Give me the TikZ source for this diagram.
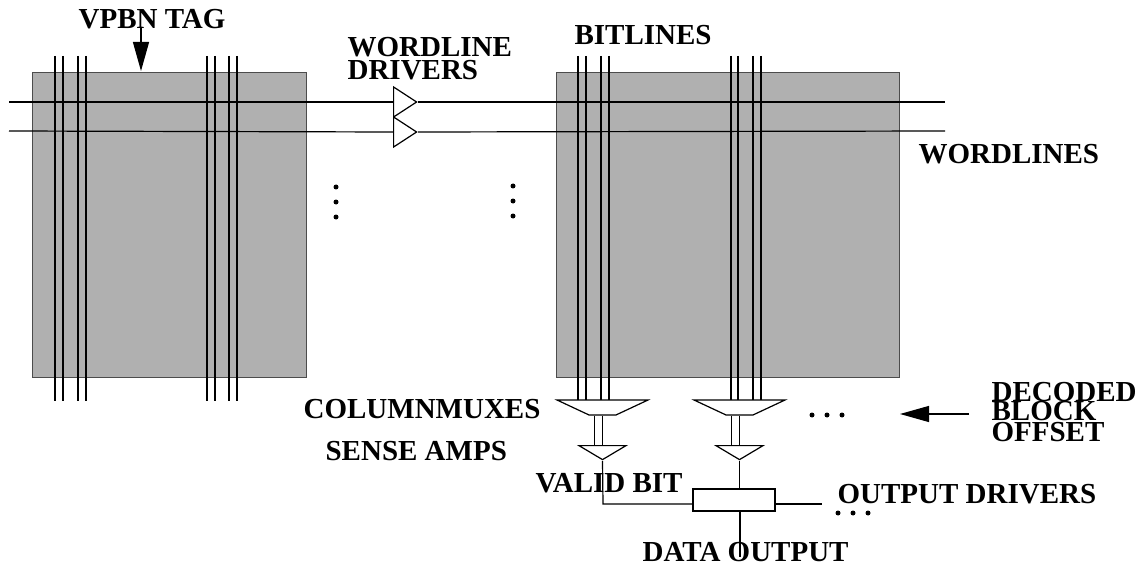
\documentclass[tikz,border=0pt]{standalone}
\usepackage{fontspec}
\setmainfont{Liberation Serif}
\usetikzlibrary{arrows.meta, shapes.geometric}

\begin{document}
\begin{tikzpicture}[
    x=1pt, y=-1pt,
    line width=1.2pt,
    array/.style={draw=black!70, fill=black!31, minimum width=#1, minimum height=305pt, inner sep=0pt, anchor=north west},
    lbl/.style={font=\fontsize{29}{20}\selectfont\bfseries, inner sep=0pt, anchor=base west, align=left},
    driver/.style={draw, fill=white, isosceles triangle, isosceles triangle stretches, minimum width=30pt, minimum height=23pt, inner sep=0.5pt, anchor=lower side},
    mux/.style={draw, fill=white, trapezium, trapezium stretches, shape border rotate=180, trapezium left angle=40, trapezium right angle=40, minimum width=91pt, minimum height=15pt, inner sep=0.5pt},
    amp/.style={draw, fill=white, isosceles triangle, isosceles triangle stretches, shape border rotate=-90, minimum width=47pt, minimum height=14pt, inner sep=0.5pt},
    dotc/.style={circle, fill=black, minimum size=5pt, inner sep=0pt},
    arr/.style={-{Triangle[length=29pt, width=16pt]}}
]
\useasboundingbox (0,0) rectangle (1141,567);

\node[array=274pt] (left) at (32,72) {};
\node[array=343pt] (right) at (556,72) {};

% wordlines
\coordinate (wla) at (9,102);
\coordinate (wlb) at (9,131);
\coordinate (wlc) at (945,102);
\coordinate (wld) at (945,131);
\node[driver] (dra) at (393,102) {};
\node[driver] (drb) at (393,132) {};
\draw (wla) -- (dra.lower side);
\draw (wlb) -- (drb.lower side);
\draw (dra.apex) -- (wlc);
\draw (drb.apex) -- (wld);

% bitlines
\foreach \x in {55,63,78,86,207,215,229,237} {
    \coordinate (bta) at (\x,56);
    \coordinate (btb) at (\x,401);
    \draw (bta) -- (btb);
}
\foreach \x in {578,586,601,609,731,738,753,761} {
    \coordinate (bta) at (\x,56);
    \coordinate (btb) at (\x,400);
    \draw (bta) -- (btb);
}

\node[mux] (muxa) at (602.5,407.5) {};
\node[mux] (muxb) at (739.5,407.5) {};
\node[amp] (ampa) at (602.5,452) {};
\node[amp] (ampb) at (739.5,452) {};
\draw ([xshift=-8pt]muxa.south) -- ([xshift=-8pt]ampa.north);
\draw (muxa.south) -- (ampa.north);
\draw ([xshift=-8pt]muxb.south) -- ([xshift=-8pt]ampb.north);
\draw (muxb.south) -- (ampb.north);

\node[draw, minimum width=82pt, minimum height=22pt, inner sep=0pt] (outdrv) at (734,500) {};
\coordinate (wirea) at (603,504);
\coordinate (wireb) at (822,504);
\coordinate (wirec) at (740,557);
\draw (ampa.apex) -- (wirea) -- (outdrv.west |- wirea);
\draw (ampb.apex) -- (ampb.apex |- outdrv.north);
\draw (outdrv.east |- wireb) -- (wireb);
\draw (wirec |- outdrv.south) -- (wirec);

\coordinate (tagtop) at (141,27);
\coordinate (tagend) at (141,71);
\draw[arr] (tagtop) -- (tagend);
\coordinate (offtail) at (969,414);
\coordinate (offend) at (900,414);
\draw[arr] (offtail) -- (offend);

% dots
\foreach \y in {187,202,217} {
    \node[dotc] at (336,\y) {};
    \node[dotc] at (513,\y-1) {};
}
\foreach \x in {812,827,842} {
    \node[dotc] at (\x,415) {};
}
\foreach \x in {838,853,868} {
    \node[dotc] at (\x,513) {};
}

% labels
\node[lbl] (tag) at (78,29) {VPBN TAG};
\node[lbl] (wldrv) at (347,57) {WORDLINE};
\node[lbl] (wldrvb) at (347,80) {DRIVERS};
\node[lbl] (bitl) at (574,45) {BITLINES};
\node[lbl] (wordl) at (918,164) {WORDLINES};
\node[lbl] (colmux) at (303,418) {COLUMNMUXES};
\node[lbl] (sense) at (325,460) {SENSE AMPS};
\node[lbl] (valid) at (535,492) {VALID BIT};
\node[lbl] (outd) at (837,503) {OUTPUT DRIVERS};
\node[lbl] (data) at (642,561) {DATA OUTPUT};
\node[lbl] (deca) at (991,401) {DECODED};
\node[lbl] (decb) at (991,420) {BLOCK};
\node[lbl] (decc) at (991,441) {OFFSET};
\end{tikzpicture}
\end{document}
